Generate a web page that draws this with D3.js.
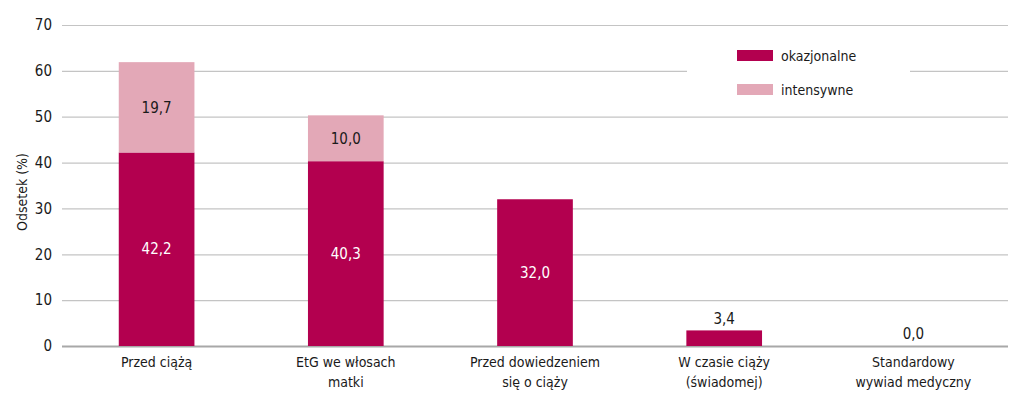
<!DOCTYPE html>
<html>
<head>
<meta charset="utf-8">
<script src="https://cdn.jsdelivr.net/npm/d3@7"></script>
<style>
  body { margin: 0; background: #fff; }
  svg { display: block; }
  text { font-family: "Liberation Sans Narrow", "DejaVu Sans Condensed", "Roboto", sans-serif; fill: #1a1a1a; }
</style>
</head>
<body>
<script>
// categories (two-line labels)
var categories = [
  ["Przed ciążą"],
  ["EtG we włosach", "matki"],
  ["Przed dowiedzeniem", "się o ciąży"],
  ["W czasie ciąży", "(świadomej)"],
  ["Standardowy", "wywiad medyczny"]
];
var okazjonalne = [42.2, 40.3, 32.0, 3.4, 0.0];
var intensywne  = [19.7, 10.0, 0, 0, 0];
var seriesNames = ["okazjonalne", "intensywne"];
var yTicks = [0, 10, 20, 30, 40, 50, 60, 70];

var width = 1024, height = 401;
var margin = { left: 62, right: 16, top: 25, bottom: 55 };
var COLORS = { okazjonalne: "#b3004f", intensywne: "#e3a8b7" };
var fmt = function(v){ return d3.format(".1f")(v).replace(".", ","); };

var svg = d3.select("body").append("svg")
  .attr("width", width)
  .attr("height", height);

var x = d3.scaleBand()
  .domain(d3.range(categories.length))
  .range([margin.left, width - margin.right])
  .paddingInner(0.6)
  .paddingOuter(0.3);

var y = d3.scaleLinear()
  .domain([0, 70])
  .range([height - margin.bottom, margin.top]);

// gridlines + tick labels
var yAxis = svg.append("g")
  .attr("transform", "translate(" + margin.left + ",0)")
  .call(d3.axisLeft(y).tickValues(yTicks).tickSize(-(width - margin.left - margin.right)).tickPadding(10));
yAxis.select(".domain").remove();
yAxis.selectAll(".tick line").attr("stroke", "#c4c4c4").attr("stroke-width", 1.2);
yAxis.selectAll(".tick text").style("font-size", "15px");
yAxis.selectAll(".tick").filter(function(d){ return d === 0; }).select("line")
  .attr("stroke", "#a8a8a8").attr("stroke-width", 2);

// y title
svg.append("text")
  .attr("transform", "translate(27," + 192 + ") rotate(-90)")
  .attr("text-anchor", "middle")
  .style("font-size", "14px")
  .text("Odsetek (%)");

// stacked bars
var stackData = categories.map(function(c, i){
  return { i: i, okazjonalne: okazjonalne[i], intensywne: intensywne[i] };
});
var stacked = d3.stack().keys(seriesNames)(stackData);

var layers = svg.append("g").selectAll("g")
  .data(stacked)
  .join("g")
  .attr("fill", function(d){ return COLORS[d.key]; });

layers.selectAll("rect")
  .data(function(d){ return d.filter(function(s){ return s[1] - s[0] > 0; }); })
  .join("rect")
  .attr("x", function(d){ return x(d.data.i); })
  .attr("width", x.bandwidth())
  .attr("y", function(d){ return y(d[1]); })
  .attr("height", function(d){ return y(d[0]) - y(d[1]); });

// value labels
var labels = svg.append("g").style("font-size", "15px").attr("text-anchor", "middle");
stacked.forEach(function(layer){
  layer.forEach(function(s){
    var v = s[1] - s[0];
    var cx = x(s.data.i) + x.bandwidth() / 2;
    if (layer.key === "okazjonalne") {
      var inside = v > 10;
      labels.append("text")
        .attr("x", cx)
        .attr("y", inside ? y((s[0] + s[1]) / 2) : y(s[1]) - 12)
        .attr("dy", "0.35em")
        .style("fill", inside ? "#fff" : "#1a1a1a")
        .text(fmt(v));
    } else if (v > 0) {
      labels.append("text")
        .attr("x", cx)
        .attr("y", y((s[0] + s[1]) / 2))
        .attr("dy", "0.35em")
        .text(fmt(v));
    }
  });
});

// category labels
var cat = svg.append("g").style("font-size", "14px").attr("text-anchor", "middle");
categories.forEach(function(lines, i){
  var t = cat.append("text")
    .attr("x", x(i) + x.bandwidth() / 2)
    .attr("y", y(0) + 21);
  lines.forEach(function(l, k){
    t.append("tspan").attr("x", x(i) + x.bandwidth() / 2).attr("dy", k === 0 ? 0 : 20).text(l);
  });
});

// legend
var legend = svg.append("g");
legend.append("rect")
  .attr("x", 687).attr("y", 36).attr("width", 223).attr("height", 68)
  .attr("fill", "#fff");
seriesNames.forEach(function(name, k){
  var g = legend.append("g").attr("transform", "translate(737," + (50 + k * 34) + ")");
  g.append("rect").attr("width", 36).attr("height", 11).attr("fill", COLORS[name]);
  g.append("text").attr("x", 44).attr("y", 6).attr("dy", "0.35em")
    .style("font-size", "14px").text(name);
});
</script>
</body>
</html>
